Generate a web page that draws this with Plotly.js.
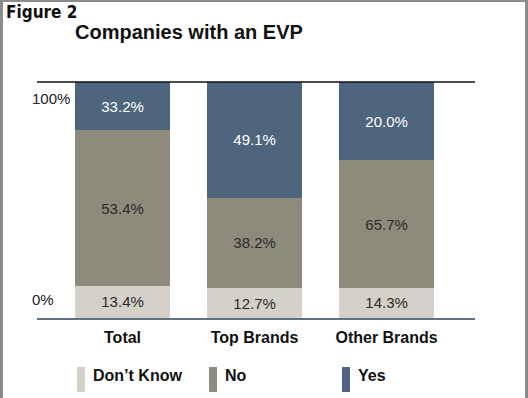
<!DOCTYPE html>
<html>
<head>
<meta charset="utf-8">
<script src="https://cdn.plot.ly/plotly-3.0.1.min.js"></script>
<style>
html,body{margin:0;padding:0;background:#fff;}
#wrap{position:relative;width:528px;height:398px;overflow:hidden;}
#chart{width:528px;height:398px;}
#frame{position:absolute;left:0;top:0;width:522px;height:400px;border-left:3px solid #8c8c8c;border-top:2px solid #8c8c8c;border-right:3px solid #8c8c8c;pointer-events:none;}
</style>
</head>
<body>
<div id="wrap"><div id="chart"></div><div id="frame"></div></div>
<script>
const categories = ["Total", "Top Brands", "Other Brands"];
// printed segment labels (%)
const dontKnow = [13.4, 12.7, 14.3];
const no = [53.4, 38.2, 65.7];
const yes = [33.2, 49.1, 20.0];
// segment heights as drawn in the reference picture (%)
const dontKnowDrawn = [13.6, 12.7, 12.8];
const noDrawn = [66.0, 38.2, 54.0];
const yesDrawn = [20.4, 49.1, 33.2];
const seriesNames = ["Don\u2019t Know", "No", "Yes"];
const yTickVals = [8, 93.2];
const yTickText = ["0%", "100%"];

const colors = ["#d5d1c9", "#8e8b7c", "#4e657e"];
const textColors = ["#2a2a2a", "#2a2a2a", "#ffffff"];
const drawn = [dontKnowDrawn, noDrawn, yesDrawn];
const printed = [dontKnow, no, yes];

const W = 528, H = 398, L = 37, R = 53, T = 82, B = 80;
const pw = W - L - R, ph = H - T - B;
const px = x => (x - L) / pw;
const py = y => (H - B - y) / ph;

const traces = drawn.map((vals, i) => ({
  type: "bar",
  x: categories,
  y: vals,
  name: seriesNames[i],
  marker: {color: colors[i], line: {width: 0}},
  width: 0.72,
  text: printed[i].map(v => v.toFixed(1) + "%"),
  texttemplate: "%{text}",
  textposition: "inside",
  insidetextanchor: "middle",
  textangle: 0,
  constraintext: "none",
  textfont: {family: "Liberation Sans, Arial, sans-serif", size: 15, color: textColors[i]},
  showlegend: false,
  hoverinfo: "skip"
}));

const annotations = [];
const shapes = [];

yTickVals.forEach((v, i) => annotations.push({
  xref: "paper", yref: "y", x: px(30), y: v, xanchor: "left", yanchor: "middle",
  text: yTickText[i], showarrow: false,
  font: {family: "Liberation Sans, Arial, sans-serif", size: 15, color: "#222"}
}));

annotations.push({
  xref: "paper", yref: "paper", x: px(4), y: py(12), xanchor: "left", yanchor: "middle",
  text: "<b>Figure 2</b>", showarrow: false,
  font: {family: "DejaVu Sans Condensed, sans-serif", size: 17, color: "#111"}
});

const legX = [77, 209, 342];
seriesNames.forEach((n, i) => {
  shapes.push({type: "rect", xref: "paper", yref: "paper",
    x0: px(legX[i]), x1: px(legX[i] + 8), y0: py(392), y1: py(367),
    fillcolor: colors[i], line: {width: 0}});
  annotations.push({xref: "paper", yref: "paper", x: px(legX[i] + 14), y: py(375),
    xanchor: "left", yanchor: "middle", text: "<b>" + n + "</b>", showarrow: false,
    font: {family: "Liberation Sans, Arial, sans-serif", size: 16, color: "#111"}});
});

shapes.push({type: "line", xref: "paper", yref: "paper", x0: 0, x1: 1, y0: 1, y1: 1,
  line: {color: "#111", width: 1.3}});

const layout = {
  width: W, height: H,
  margin: {l: L, r: R, t: T, b: B, pad: 0},
  paper_bgcolor: "#fff", plot_bgcolor: "#fff",
  barmode: "stack",
  title: {
    text: "<b>Companies with an EVP</b>",
    xref: "container", yref: "container",
    x: 75 / W, xanchor: "left", y: 1 - 32 / H, yanchor: "middle",
    font: {family: "Liberation Sans, Arial, sans-serif", size: 20, color: "#111"}
  },
  xaxis: {
    type: "category", range: [-0.648, 2.67], showgrid: false, zeroline: false,
    showline: true, linecolor: "#5f7183", linewidth: 1.5, ticks: "",
    ticklabelstandoff: 4,
    tickfont: {family: "Liberation Sans, Arial, sans-serif", size: 16, color: "#111"},
    tickprefix: "<b>", ticksuffix: "</b>", fixedrange: true
  },
  yaxis: {
    range: [0, 100], showgrid: false, zeroline: false, showline: false,
    showticklabels: false, ticks: "", fixedrange: true
  },
  annotations: annotations,
  shapes: shapes,
  showlegend: false
};

Plotly.newPlot("chart", traces, layout, {displayModeBar: false, staticPlot: true});
</script>
</body>
</html>
